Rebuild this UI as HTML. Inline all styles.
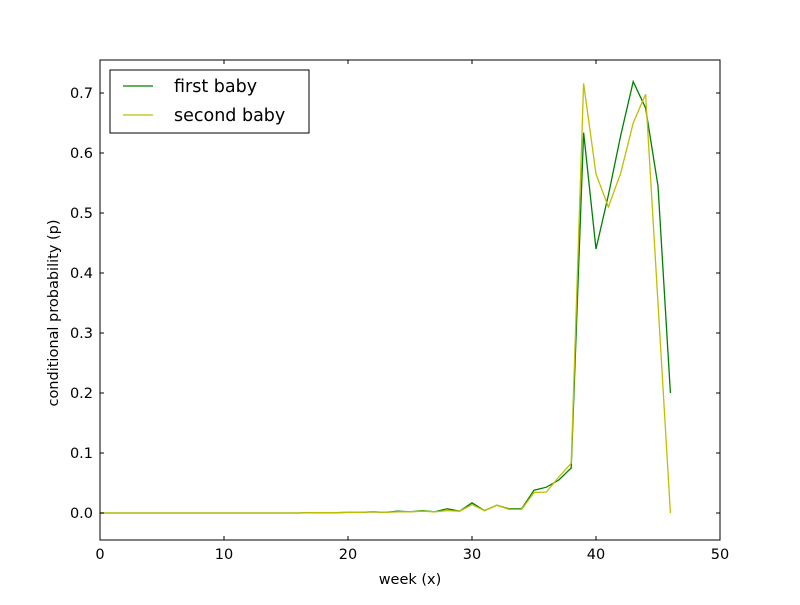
<!DOCTYPE html>
<html><head><meta charset="utf-8"><style>
body{margin:0;background:#fff}
svg{font-family:"DejaVu Sans","Liberation Sans",sans-serif}
</style></head><body>
<svg id="chart" width="800" height="600" xmlns="http://www.w3.org/2000/svg">
<rect width="800" height="600" fill="#fff"/>
<g id="plot"></g>
</svg>
<script>
const weeks = Array.from({length:47},(_,i)=>i);
const firstBaby = [0,0,0,0,0,0,0,0,0,0,0,0,0,0,0,0,0,0.0005,0.0005,0.0005,0.001,0.001,0.002,0.001,0.003,0.002,0.004,0.002,0.007,0.003,0.017,0.004,0.013,0.007,0.007,0.038,0.043,0.055,0.075,0.634,0.44,0.53,0.63,0.719,0.675,0.545,0.2];
const secondBaby = [0,0,0,0,0,0,0,0,0,0,0,0,0,0,0,0,0,0.0005,0.0005,0.0005,0.001,0.001,0.002,0.001,0.002,0.002,0.003,0.002,0.004,0.003,0.014,0.004,0.013,0.006,0.006,0.034,0.035,0.06,0.083,0.716,0.565,0.51,0.567,0.65,0.698,0.35,0];
const xTicks = [0,10,20,30,40,50];
const yTicks = [0.0,0.1,0.2,0.3,0.4,0.5,0.6,0.7];
const L=100,R=720,T=60,B=540;
const xMin=0,xMax=50,yMin=-0.045,yMax=0.755;
const sx=v=>L+(v-xMin)/(xMax-xMin)*(R-L);
const sy=v=>B-(v-yMin)/(yMax-yMin)*(B-T);
const g=document.getElementById('plot');
const NS="http://www.w3.org/2000/svg";
function mk(t,a){const e=document.createElementNS(NS,t);for(const k in a)e.setAttribute(k,a[k]);g.appendChild(e);return e;}
function line(xs,ys,c,name){
  const p=mk('polyline',{points:xs.map((x,i)=>sx(x)+','+sy(ys[i])).join(' '),fill:'none',stroke:c,'stroke-width':1.3});
  
  
}
line(weeks,firstBaby,'#008000','first-baby-line');
line(weeks,secondBaby,'#bfbf00','second-baby-line');
const frame=mk('rect',{x:L,y:T,width:R-L,height:B-T,fill:'none',stroke:'#000','stroke-width':1});


xTicks.forEach(v=>{
  const x=sx(v);
  mk('line',{x1:x,x2:x,y1:B,y2:B-4,stroke:'#000'});
  mk('line',{x1:x,x2:x,y1:T,y2:T+4,stroke:'#000'});
  const t=mk('text',{x:x,y:B+19,'text-anchor':'middle','font-size':14.5});
  t.textContent=v;
  
  
});
yTicks.forEach(v=>{
  const y=sy(v);
  mk('line',{x1:L,x2:L+4,y1:y,y2:y,stroke:'#000'});
  mk('line',{x1:R,x2:R-4,y1:y,y2:y,stroke:'#000'});
  const t=mk('text',{x:L-7,y:y+5,'text-anchor':'end','font-size':14.5});
  t.textContent=v.toFixed(1);
  
  
});
const xt=mk('text',{x:410,y:584,'text-anchor':'middle','font-size':14.5});
xt.textContent='week (x)';


const yt=mk('text',{x:58,y:313,'text-anchor':'middle','font-size':14.5,transform:'rotate(-90 58 313)'});
yt.textContent='conditional probability (p)';


const lg=mk('rect',{x:110,y:70,width:199,height:63,fill:'#fff',stroke:'#000'});


[['first baby','#008000',86],['second baby','#bfbf00',115]].forEach(([n,c,y])=>{
  mk('line',{x1:123,x2:153,y1:y,y2:y,stroke:c,'stroke-width':1.3});
  const t=mk('text',{x:174,y:y+6,'font-size':17.5});
  t.textContent=n;
  
  
});
</script>
</body></html>
